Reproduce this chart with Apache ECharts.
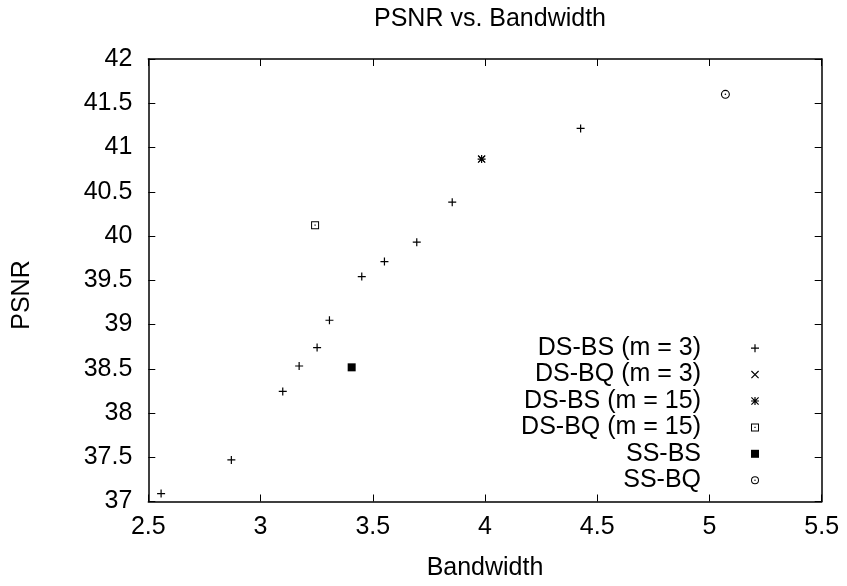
<!DOCTYPE html>
<html>
<head>
<meta charset="utf-8">
<script src="https://cdn.jsdelivr.net/npm/echarts@6/dist/echarts.min.js"></script>
<style>
html,body{margin:0;padding:0;background:#fff;}
#chart{width:847px;height:586px;}
</style>
</head>
<body>
<div id="chart"></div>
<script>
// ---- data ----
const xTicks = [2.5, 3, 3.5, 4, 4.5, 5, 5.5];
const yTicks = [37, 37.5, 38, 38.5, 39, 39.5, 40, 40.5, 41, 41.5, 42];

const seriesNames = ['DS-BS (m = 3)', 'DS-BQ (m = 3)', 'DS-BS (m = 15)', 'DS-BQ (m = 15)', 'SS-BS', 'SS-BQ'];

const dsbs3Bandwidth = [2.557, 2.870, 3.099, 3.172, 3.252, 3.307, 3.451, 3.552, 3.696, 3.854, 4.426];
const dsbs3Psnr      = [37.09, 37.47, 38.244, 38.531, 38.739, 39.048, 39.542, 39.711, 39.930, 40.382, 41.216];

const dsbq3Bandwidth = [3.985];
const dsbq3Psnr      = [40.869];

const dsbs15Bandwidth = [3.985];
const dsbs15Psnr      = [40.869];

const dsbq15Bandwidth = [3.243];
const dsbq15Psnr      = [40.122];

const ssbsBandwidth = [3.406];
const ssbsPsnr      = [38.516];

const ssbqBandwidth = [5.071];
const ssbqPsnr      = [41.601];

// ---- marker shapes ----
const PLUS  = 'path://M-10,-1.5L10,-1.5L10,1.5L-10,1.5Z M-1.5,-10L1.5,-10L1.5,10L-1.5,10Z';
const CROSS = 'path://M-8,-10L10,8L8,10L-10,-8Z M8,-10L10,-8L-8,10L-10,8Z';
const STAR  = 'path://M-10,-1.5L10,-1.5L10,1.5L-10,1.5Z M-1.5,-10L1.5,-10L1.5,10L-1.5,10Z M-8,-10L10,8L8,10L-10,-8Z M8,-10L10,-8L-8,10L-10,8Z';
const BOX   = 'path://M-10,-10L10,-10L10,10L-10,10Z M-7.5,-7.5L-7.5,7.5L7.5,7.5L7.5,-7.5Z M-1.5,-1.5L1.5,-1.5L1.5,1.5L-1.5,1.5Z';
const FBOX  = 'path://M-10,-10L10,-10L10,10L-10,10Z';
const CIRC  = 'path://M10,0A10,10 0 1,1 -10,0A10,10 0 1,1 10,0Z M7.5,0A7.5,7.5 0 1,0 -7.5,0A7.5,7.5 0 1,0 7.5,0Z M1.8,0A1.8,1.8 0 1,1 -1.8,0A1.8,1.8 0 1,1 1.8,0Z';

const FONT = '"Liberation Sans", Arial, Helvetica, sans-serif';
const FS = 25;

function zip(xs, ys) { return xs.map((x, i) => [x, ys[i]]); }

const seriesDefs = [
  { name: seriesNames[0], xs: dsbs3Bandwidth, ys: dsbs3Psnr, symbol: PLUS, size: 8 },
  { name: seriesNames[1], xs: dsbq3Bandwidth, ys: dsbq3Psnr, symbol: CROSS, size: 7 },
  { name: seriesNames[2], xs: dsbs15Bandwidth, ys: dsbs15Psnr, symbol: STAR, size: 8 },
  { name: seriesNames[3], xs: dsbq15Bandwidth, ys: dsbq15Psnr, symbol: BOX, size: 8 },
  { name: seriesNames[4], xs: ssbsBandwidth, ys: ssbsPsnr, symbol: FBOX, size: 8 },
  { name: seriesNames[5], xs: ssbqBandwidth, ys: ssbqPsnr, symbol: CIRC, size: 9 }
];

const axisCommon = (ticks) => ({
  type: 'value',
  min: ticks[0],
  max: ticks[ticks.length - 1],
  interval: ticks[1] - ticks[0],
  splitLine: { show: false },
  axisLine: { show: true, onZero: false, lineStyle: { color: '#000', width: 1.5 } },
  axisTick: { show: true, inside: true, length: 7, lineStyle: { color: '#000', width: 1 } },
});

const chart = echarts.init(document.getElementById('chart'), null, { renderer: 'canvas' });

const option = {
  backgroundColor: '#fff',
  animation: false,
  textStyle: { fontFamily: FONT },
  title: {
    text: 'PSNR vs. Bandwidth',
    left: 490,
    top: 7,
    padding: 0,
    textAlign: 'center',
    textStyle: { fontFamily: FONT, fontSize: FS, fontWeight: 'normal', color: '#000' }
  },
  grid: {
    left: 148.3, right: 25.3, top: 59, bottom: 84.5,
    containLabel: false, outerBoundsMode: 'none', show: false
  },
  legend: {
    orient: 'vertical',
    align: 'right',
    right: 88,
    top: 335,
    padding: 0,
    itemGap: 0,
    itemWidth: 98,
    itemHeight: 8,
    selectedMode: false,
    textStyle: { fontFamily: FONT, fontSize: FS, color: '#000', lineHeight: 26.4 },
    data: seriesNames
  },
  xAxis: [
    Object.assign(axisCommon(xTicks), {
      position: 'bottom',
      name: 'Bandwidth',
      nameLocation: 'middle',
      nameGap: 54,
      nameTextStyle: { fontFamily: FONT, fontSize: FS, color: '#000' },
      axisLabel: { show: true, margin: 13, fontFamily: FONT, fontSize: FS, color: '#000' }
    }),
    Object.assign(axisCommon(xTicks), {
      position: 'top',
      axisLabel: { show: false }
    })
  ],
  yAxis: [
    Object.assign(axisCommon(yTicks), {
      position: 'left',
      axisLabel: { show: true, margin: 16, fontFamily: FONT, fontSize: FS, color: '#000' }
    }),
    Object.assign(axisCommon(yTicks), {
      position: 'right',
      axisLabel: { show: false }
    })
  ],
  graphic: [{
    type: 'text',
    x: 22.5,
    y: 295,
    rotation: Math.PI / 2,
    style: {
      text: 'PSNR',
      font: FS + 'px ' + FONT,
      fill: '#000',
      align: 'center',
      verticalAlign: 'middle'
    }
  }],
  series: seriesDefs.map(d => ({
    type: 'scatter',
    name: d.name,
    xAxisIndex: 0,
    yAxisIndex: 0,
    symbol: d.symbol,
    symbolSize: d.size,
    symbolKeepAspect: true,
    itemStyle: { color: '#000', opacity: 1 },
    emphasis: { disabled: true },
    data: zip(d.xs, d.ys)
  }))
};

chart.setOption(option);
</script>
</body>
</html>
